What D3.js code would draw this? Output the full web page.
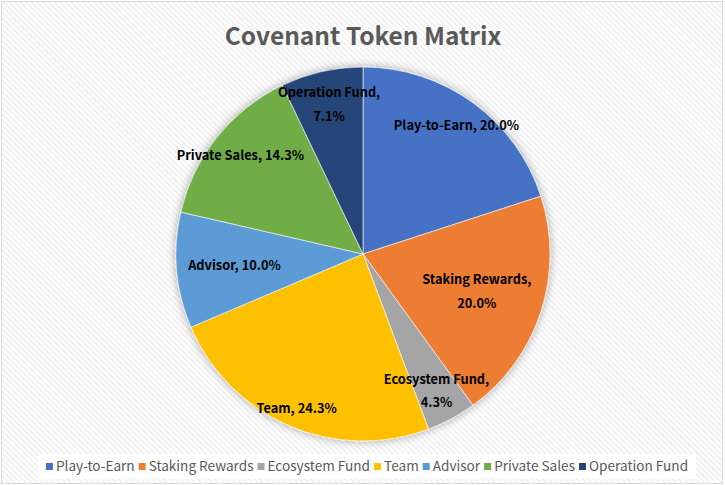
<!DOCTYPE html>
<html>
<head>
<meta charset="utf-8">
<script src="https://cdn.jsdelivr.net/npm/d3@7"></script>
<style>
  body { margin: 0; background: #fff; }
  svg { display: block; font-family: "Noto Sans CJK KR", "Noto Sans", sans-serif; }
</style>
</head>
<body>
<div id="chart"></div>
<script>
// data
var categories = ["Play-to-Earn", "Staking Rewards", "Ecosystem Fund", "Team", "Advisor", "Private Sales", "Operation Fund"];
var shares = [20.0, 20.0, 4.3, 24.3, 10.0, 14.3, 7.1];
var colors = ["#4472C4", "#ED7D31", "#A5A5A5", "#FFC000", "#5B9BD5", "#70AD47", "#264478"];
var title = "Covenant Token Matrix";

// label layout (excel "best fit" look)
var labelRadius = [0.85, 0.64, 0.83, 0.9, 0.69, 0.84, 0.82];
var twoLine = ["Staking Rewards", "Ecosystem Fund", "Operation Fund"];

var width = 725, height = 485;
var cx = 363, cy = 254, radius = 187;

var svg = d3.select("#chart")
  .append("svg")
  .attr("width", width)
  .attr("height", height);

var defs = svg.append("defs");

var pattern = defs.append("pattern")
  .attr("id", "stripes")
  .attr("patternUnits", "userSpaceOnUse")
  .attr("width", 4)
  .attr("height", 4)
  .attr("patternTransform", "rotate(-45)");
pattern.append("rect").attr("width", 4).attr("height", 4).attr("fill", "#ffffff");
pattern.append("rect").attr("width", 1.6).attr("height", 4).attr("fill", "#efefef");

var shadow = defs.append("filter")
  .attr("id", "shadow")
  .attr("x", "-20%").attr("y", "-20%")
  .attr("width", "140%").attr("height", "140%");
shadow.append("feGaussianBlur").attr("in", "SourceAlpha").attr("stdDeviation", 5).attr("result", "blur");
shadow.append("feComponentTransfer").attr("in", "blur").attr("result", "soft")
  .append("feFuncA").attr("type", "linear").attr("slope", 0.35);
var merge = shadow.append("feMerge");
merge.append("feMergeNode").attr("in", "soft");
merge.append("feMergeNode").attr("in", "SourceGraphic");

// background + border
svg.append("rect")
  .attr("x", 1.5).attr("y", 1.5)
  .attr("width", width - 4).attr("height", height - 3)
  .attr("fill", "url(#stripes)")
  .attr("stroke", "#d9d9d9");

svg.append("text")
  .attr("x", cx)
  .attr("y", 45)
  .attr("text-anchor", "middle")
  .attr("font-size", 24.5)
  .attr("font-weight", "bold")
  .attr("fill", "#595959")
  .text(title);

var data = categories.map(function(d, i) { return { name: d, value: shares[i], color: colors[i], lr: labelRadius[i] }; });

var pie = d3.pie()
  .sort(null)
  .value(function(d) { return d.value; });

var arc = d3.arc()
  .innerRadius(0)
  .outerRadius(radius);

var g = svg.append("g")
  .attr("transform", "translate(" + cx + "," + cy + ")");

var arcs = pie(data);

g.append("g")
  .attr("filter", "url(#shadow)")
  .selectAll("path")
  .data(arcs)
  .enter()
  .append("path")
  .attr("d", arc)
  .attr("fill", function(d) { return d.data.color; })
  .attr("stroke", "#ffffff")
  .attr("stroke-width", 0.6);

var fmt = d3.format(".1f");

var labels = g.append("g")
  .attr("font-size", 12.8)
  .attr("font-weight", "bold")
  .attr("fill", "#000")
  .attr("text-anchor", "middle")
  .selectAll("text")
  .data(arcs)
  .enter()
  .append("text")
  .attr("transform", function(d) {
    var r = radius * d.data.lr;
    var la = d3.arc().innerRadius(r).outerRadius(r);
    return "translate(" + la.centroid(d) + ")";
  });

labels.each(function(d) {
  var t = d3.select(this);
  var pct = fmt(d.data.value) + "%";
  if (twoLine.indexOf(d.data.name) >= 0) {
    t.append("tspan").attr("x", 0).attr("dy", "-0.55em").text(d.data.name + ",");
    t.append("tspan").attr("x", 0).attr("dy", "1.85em").text(pct);
  } else {
    t.append("tspan").attr("x", 0).attr("dy", "0.35em").text(d.data.name + ", " + pct);
  }
});

// legend
var legend = svg.append("g")
  .attr("font-size", 13.6)
  .attr("fill", "#595959");

var items = legend.selectAll("g")
  .data(data)
  .enter()
  .append("g");

items.append("rect")
  .attr("width", 7)
  .attr("height", 7)
  .attr("y", -8)
  .attr("fill", function(d) { return d.color; });

items.append("text")
  .attr("x", 10)
  .text(function(d) { return d.name; });

var gap = 4;
var widths = [];
items.each(function() {
  widths.push(10 + d3.select(this).select("text").node().getComputedTextLength());
});
var total = d3.sum(widths) + gap * (widths.length - 1);
var xpos = cx + 4 - total / 2;
items.attr("transform", function(d, i) {
  var x = xpos;
  xpos += widths[i] + gap;
  return "translate(" + x + ",471)";
});

legend.insert("rect", ":first-child")
  .attr("x", cx - total / 2 - 4)
  .attr("y", 454)
  .attr("width", total + 16)
  .attr("height", 25)
  .attr("fill", "#ffffff");
</script>
</body>
</html>
